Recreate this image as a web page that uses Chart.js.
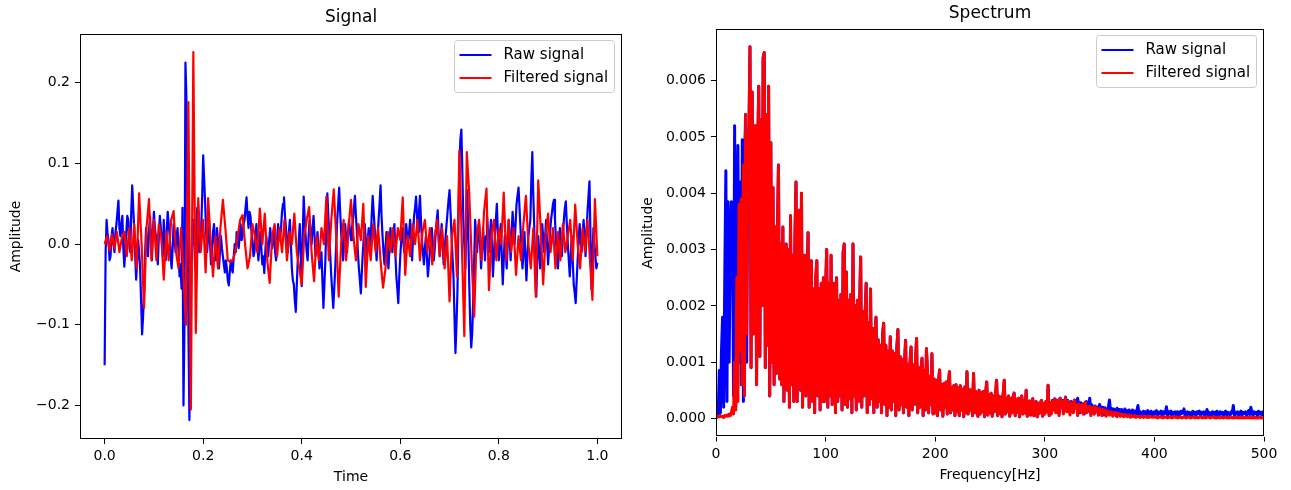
<!DOCTYPE html>
<html>
<head>
<meta charset="utf-8">
<script src="https://cdn.jsdelivr.net/npm/chart.js@4.4.1/dist/chart.umd.min.js"></script>
<style>
html,body{margin:0;padding:0;background:#fff;}
#wrap{position:relative;width:1291px;height:490px;overflow:hidden;background:#fff;}
canvas{position:absolute;top:0;}
#signalChart{left:0;}
#spectrumChart{left:640px;}
</style>
</head>
<body>
<div id="wrap">
<canvas id="signalChart" width="640" height="490"></canvas>
<canvas id="spectrumChart" width="651" height="490"></canvas>
</div>
<script>
// ---------------- DATA ----------------
const rawSampleStep = 0.002;
const filteredSampleStep = 0.005;
const rawSignal = [
 -0.150,-0.010, 0.030, 0.012, 0.005,-0.020,-0.015, 0.010, 0.020, 0.000,
 -0.010, 0.015, 0.025, 0.040, 0.054, 0.020, 0.010, 0.025, 0.035,-0.005,
 -0.028,-0.005, 0.015, 0.035, 0.030, 0.000,-0.010, 0.040, 0.073, 0.045,
  0.020,-0.015,-0.044,-0.020, 0.005,-0.010,-0.030,-0.070,-0.112,-0.090,
 -0.060,-0.015, 0.020, 0.000,-0.015, 0.015, 0.035, 0.010,-0.020, 0.015,
  0.040, 0.020, 0.010,-0.010,-0.025, 0.010, 0.035, 0.020, 0.005,-0.015,
  0.030, 0.005,-0.020, 0.015, 0.040, 0.025, 0.010,-0.015,-0.030,-0.005,
  0.025, 0.005,-0.010, 0.010, 0.020,-0.010,-0.040,-0.025,-0.055, 0.045,
 -0.200,-0.100, 0.225, 0.180, 0.040,-0.100,-0.218,-0.120,-0.020, 0.010,
  0.030, 0.000,-0.030, 0.010, 0.045, 0.015,-0.010, 0.005, 0.020, 0.060,
  0.110, 0.080, 0.050, 0.015,-0.010, 0.010, 0.030, 0.000,-0.025,-0.005,
  0.015, 0.025,-0.005,-0.020, 0.020, 0.005,-0.030,-0.010, 0.010,-0.005,
 -0.015,-0.025,-0.035,-0.020,-0.030,-0.045,-0.051,-0.035,-0.020,-0.030,
 -0.035,-0.015, 0.000,-0.010, 0.015, 0.005,-0.005, 0.010, 0.025, 0.005,
  0.010, 0.025, 0.030, 0.045, 0.058, 0.035, 0.020, 0.040, 0.035, 0.015,
  0.005,-0.015,-0.010, 0.010, 0.025, 0.000,-0.020,-0.005, 0.015,-0.005,
 -0.025,-0.015,-0.036,-0.010, 0.010,-0.005,-0.015, 0.005, 0.020, 0.005,
 -0.005, 0.010, 0.015,-0.010,-0.020, 0.005, 0.025, 0.010, 0.005, 0.020,
  0.040, 0.050, 0.058, 0.035, 0.020, 0.000,-0.010, 0.015, 0.030, 0.000,
 -0.030,-0.045,-0.050,-0.070,-0.084,-0.050,-0.020, 0.005, 0.025,-0.015,
 -0.052, 0.010, 0.059, 0.030, 0.010,-0.010,-0.020, 0.010, 0.030, 0.015,
  0.000, 0.020, 0.035, 0.010,-0.015, 0.000, 0.015,-0.010,-0.030,-0.015,
 -0.010,-0.045,-0.079,-0.050,-0.020, 0.025, 0.063, 0.035, 0.010,-0.015,
 -0.040,-0.060,-0.079,-0.055,-0.030, 0.000, 0.030, 0.050, 0.070, 0.040,
  0.015,-0.005,-0.020, 0.005, 0.025, 0.010,-0.010, 0.015, 0.030, 0.015,
  0.005, 0.020, 0.030, 0.045, 0.060, 0.035, 0.015,-0.010,-0.030,-0.045,
 -0.061,-0.035,-0.010, 0.010, 0.025, 0.005,-0.015, 0.005, 0.020,-0.005,
  0.005, 0.035, 0.060, 0.040, 0.020, 0.000,-0.020, 0.010, 0.030, 0.050,
  0.073, 0.035, 0.010,-0.010,-0.025,-0.005, 0.015,-0.010,-0.030,-0.005,
  0.020, 0.005,-0.010, 0.010, 0.025,-0.010,-0.040,-0.055,-0.073,-0.040,
 -0.015, 0.005, 0.020, 0.005,-0.010, 0.010, 0.025, 0.010, 0.000, 0.015,
  0.030, 0.005,-0.020, 0.010, 0.035, 0.045, 0.059, 0.035, 0.015, 0.040,
  0.060, 0.030, 0.005,-0.010,-0.025,-0.005, 0.010,-0.015,-0.040,-0.025,
 -0.010, 0.005, 0.020, 0.000,-0.020,-0.005, 0.015, 0.030, 0.042, 0.010,
 -0.015, 0.005, 0.025, 0.000,-0.025,-0.010, 0.010, 0.025, 0.040, 0.055,
  0.067, 0.040, 0.010,-0.015,-0.040,-0.090,-0.135,-0.100,-0.060, 0.020,
  0.100, 0.130, 0.142, 0.090, 0.030, 0.000,-0.030, 0.020, 0.067, 0.010,
 -0.050,-0.100,-0.128,-0.110,-0.070,-0.020, 0.030, 0.010,-0.010, 0.015,
  0.025, 0.000,-0.030,-0.005, 0.020, 0.000,-0.020, 0.010, 0.035, 0.015,
 -0.010, 0.010, 0.030, 0.000,-0.040,-0.015, 0.010, 0.030, 0.050, 0.015,
 -0.020, 0.005, 0.025,-0.015,-0.050,-0.020, 0.010,-0.010,-0.030, 0.000,
  0.030, 0.005,-0.020, 0.015, 0.040, 0.020, 0.000, 0.025, 0.050, 0.060,
  0.070, 0.045, 0.020,-0.005,-0.030,-0.010, 0.015,-0.015,-0.045,-0.015,
  0.010, 0.020, 0.030, 0.080, 0.114, 0.060, 0.020,-0.030,-0.065,-0.020,
  0.010,-0.010,-0.030,-0.005, 0.025, 0.010,-0.010, 0.010, 0.030, 0.000,
 -0.025,-0.005, 0.015, 0.030, 0.040, 0.050, 0.055, 0.030, 0.005,-0.015,
 -0.030,-0.005, 0.020, 0.000,-0.015, 0.010, 0.030, 0.045, 0.053, 0.025,
  0.000,-0.020,-0.040,-0.015, 0.010,-0.020,-0.050,-0.060,-0.073,-0.045,
 -0.020, 0.005, 0.025, 0.005,-0.010, 0.010, 0.030, 0.010,-0.015, 0.015,
  0.040, 0.060, 0.078, 0.010,-0.056,-0.020, 0.020, 0.000,-0.015,-0.030,
 -0.023
];
const filteredSignal = [
  0.000, 0.010,-0.008, 0.012,-0.005, 0.015,-0.010, 0.008, 0.015,-0.015,
  0.020,-0.020, 0.025,-0.030, 0.063, 0.000,-0.079, 0.020, 0.056,-0.020,
  0.030,-0.020, 0.025, 0.010,-0.044, 0.015,-0.020, 0.030, 0.041,-0.010,
 -0.030, 0.020,-0.040,-0.100, 0.176,-0.205, 0.238,-0.110, 0.057,-0.010,
  0.030,-0.035, 0.057, 0.005,-0.040, 0.010,-0.030, 0.020, 0.055, 0.020,
 -0.020,-0.022,-0.020,-0.010, 0.010, 0.030, 0.036, 0.000,-0.030,-0.015,
  0.025, 0.010,-0.010, 0.044, 0.000, 0.038,-0.020,-0.048, 0.010, 0.025,
 -0.015, 0.020,-0.010, 0.030,-0.020, 0.015, 0.000, 0.038,-0.010,-0.030,
 -0.050, 0.010, 0.030, 0.046,-0.010,-0.046, 0.010,-0.020, 0.020, 0.000,
  0.059,-0.020, 0.030, 0.068, 0.010,-0.065, 0.000, 0.030,-0.020, 0.020,
  0.055, 0.010,-0.020, 0.025, 0.005, 0.050,-0.053, 0.010,-0.020, 0.025,
 -0.010, 0.020,-0.020,-0.054,-0.030, 0.015,-0.010, 0.020,-0.015, 0.020,
  0.005, 0.058,-0.038, 0.010,-0.015, 0.025, 0.000, 0.030,-0.020, 0.015,
  0.030,-0.010, 0.020,-0.025, 0.010, 0.030,-0.015, 0.020,-0.030, 0.010,
 -0.071, 0.010, 0.030,-0.040, 0.116, 0.000,-0.114, 0.114, 0.063,-0.020,
 -0.090, 0.010, 0.030,-0.020, 0.040, 0.069,-0.057, 0.010, 0.030,-0.020,
  0.020, 0.000, 0.064,-0.020, 0.030,-0.010, 0.020,-0.038, 0.010,-0.020,
  0.025, 0.060, 0.000,-0.030, 0.020,-0.065, 0.079, 0.020,-0.050, 0.010,
  0.038,-0.010, 0.020,-0.030, 0.015,-0.020, 0.025,-0.010, 0.010, 0.030,
 -0.020, 0.049, 0.000,-0.030, 0.020,-0.010, 0.030,-0.020,-0.069, 0.056,
 -0.015
];

// Spectrum: 1 Hz bins, 0..500 Hz
const spectrumBinHz = 1;
// 0-29 Hz
const rawSpectrumLow = [
 .00010,.00030,.00008,.00085,.00010,.00120,.00180,.00020,.00250,.00440,
 .00030,.00385,.00100,.00300,.00385,.00370,.00040,.00520,.00020,.00350,
 .00485,.00100,.00420,.00060,.00495,.00030,.00450,.00540,.00100,.00480
];
const filteredSpectrumLow = [
 .00003,.00002,.00004,.00003,.00005,.00003,.00004,.00002,.00005,.00004,
 .00006,.00004,.00008,.00005,.00010,.00020,.00008,.00100,.00015,.00250,
 .00030,.00380,.00120,.00390,.00060,.00450,.00040,.00540,.00150,.00480
];
// 30-305 Hz : raw and filtered coincide in the pass band
const spectrumPassband = [
 .00500,.00660,.00090,.00580,.00150,.00480,.00520,.00060,.00470,.00590,
 .00110,.00530,.00200,.00640,.00650,.00090,.00540,.00130,.00590,.00040,
 .00490,.00100,.00410,.00060,.00340,.00080,.00330,.00450,.00070,.00310,
 .00060,.00340,.00030,.00260,.00310,.00050,.00300,.00020,.00360,.00060,
 .00290,.00030,.00320,.00420,.00030,.00310,.00370,.00050,.00400,.00020,
 .00260,.00290,.00040,.00240,.00330,.00020,.00250,.00280,.00030,.00230,
 .00010,.00250,.00280,.00040,.00230,.00015,.00240,.00030,.00250,.00030,
 .00230,.00300,.00020,.00240,.00040,.00290,.00025,.00220,.00240,.00010,
 .00250,.00030,.00210,.00040,.00220,.00015,.00295,.00310,.00025,.00260,
 .00020,.00210,.00035,.00220,.00010,.00310,.00040,.00200,.00015,.00210,
 .00030,.00200,.00287,.00020,.00190,.00040,.00180,.00240,.00010,.00170,
 .00025,.00230,.00035,.00160,.00010,.00150,.00180,.00020,.00140,.00030,
 .00130,.00010,.00150,.00169,.00025,.00130,.00005,.00120,.00020,.00145,
 .00015,.00120,.00030,.00115,.00005,.00125,.00158,.00015,.00110,.00025,
 .00105,.00010,.00100,.00139,.00020,.00095,.00005,.00100,.00127,.00015,
 .00095,.00025,.00100,.00142,.00010,.00090,.00020,.00085,.00107,.00005,
 .00085,.00015,.00124,.00080,.00010,.00075,.00025,.00115,.00008,.00070,
 .00010,.00068,.00005,.00065,.00086,.00015,.00060,.00004,.00062,.00020,
 .00065,.00008,.00060,.00083,.00010,.00055,.00015,.00058,.00005,.00060,
 .00012,.00055,.00005,.00058,.00015,.00052,.00003,.00056,.00010,.00083,
 .00008,.00052,.00015,.00050,.00005,.00080,.00010,.00048,.00018,.00004,
 .00050,.00008,.00046,.00012,.00048,.00003,.00044,.00065,.00006,.00042,
 .00010,.00045,.00004,.00040,.00012,.00042,.00068,.00005,.00040,.00009,
 .00038,.00003,.00042,.00068,.00008,.00036,.00012,.00040,.00004,.00035,
 .00010,.00038,.00045,.00005,.00034,.00011,.00036,.00003,.00033,.00040,
 .00008,.00032,.00010,.00050,.00004,.00030,.00031,.00006,.00029,.00035,
 .00005,.00028,.00030,.00003,.00027,.00009,.00028,.00032,.00004,.00026,
 .00008,.00030,.00012,.00059,.00005,.00028
];
// 306-500 Hz
const rawSpectrumHigh = [
 .00010,.00032,.00018,.00035,
 .00012,.00033,.00028,.00008,.00036,.00022,.00032,.00010,.00030,.00038,
 .00015,.00032,.00025,.00010,.00030,.00028,.00012,.00033,.00020,.00026,
 .00036,.00024,.00010,.00028,.00015,.00026,.00008,.00025,.00030,.00012,
 .00022,.00036,.00010,.00024,.00018,.00008,.00022,.00015,.00020,.00006,
 .00025,.00018,.00010,.00020,.00006,.00019,.00015,.00008,.00020,.00033,
 .00012,.00018,.00006,.00017,.00014,.00005,.00018,.00010,.00016,.00007,
 .00016,.00012,.00005,.00017,.00010,.00014,.00006,.00015,.00011,.00004,
 .00015,.00009,.00013,.00005,.00014,.00023,.00006,.00012,.00010,.00004,
 .00013,.00008,.00012,.00005,.00014,.00010,.00006,.00013,.00009,.00004,
 .00012,.00008,.00014,.00005,.00011,.00009,.00013,.00004,.00012,.00008,
 .00010,.00021,.00005,.00012,.00009,.00013,.00004,.00011,.00008,.00012,
 .00005,.00012,.00010,.00004,.00013,.00009,.00011,.00017,.00005,.00010,
 .00012,.00006,.00011,.00009,.00004,.00013,.00008,.00011,.00005,.00012,
 .00009,.00013,.00004,.00011,.00008,.00012,.00005,.00010,.00016,.00006,
 .00011,.00009,.00004,.00012,.00008,.00011,.00005,.00013,.00009,.00005,
 .00012,.00008,.00011,.00004,.00010,.00013,.00006,.00011,.00009,.00005,
 .00012,.00010,.00023,.00005,.00011,.00008,.00012,.00004,.00010,.00013,
 .00006,.00011,.00009,.00012,.00005,.00010,.00014,.00007,.00020,.00010,
 .00005,.00012,.00009,.00011,.00004,.00013,.00008,.00011,.00006,.00012,
 .00010
];
const filteredSpectrumHigh = [
 .00008,.00030,.00015,.00034,
 .00010,.00032,.00025,.00005,.00036,.00020,.00030,.00008,.00028,.00037,
 .00012,.00030,.00022,.00006,.00028,.00026,.00010,.00032,.00018,.00024,
 .00005,.00026,.00022,.00012,.00025,.00008,.00023,.00029,.00010,.00020,
 .00015,.00022,.00005,.00020,.00018,.00008,.00021,.00012,.00017,.00006,
 .00018,.00014,.00005,.00016,.00012,.00015,.00004,.00013,.00011,.00006,
 .00012,.00010,.00004,.00011,.00009,.00010,.00003,.00009,.00008,.00004,
 .00008,.00007,.00003,.00007,.00006,.00003,.00006,.00005,.00002,.00005,
 .00004,.00003,.00005,.00002,.00004,.00003,.00004,.00002,.00003,.00004,
 .00002,.00003,.00004,.00002,.00003,.00002,.00004,.00003,.00002,.00003,
 .00003,.00002,.00003,.00001,.00003,.00002,.00003,.00002,.00001,.00003,
 .00002,.00003,.00001,.00002,.00003,.00002,.00001,.00003,.00002,.00002,
 .00003,.00001,.00002,.00003,.00002,.00001,.00002,.00003,.00002,.00001,
 .00002,.00003,.00002,.00001,.00002,.00002,.00003,.00001,.00002,.00002,
 .00001,.00002,.00003,.00002,.00001,.00002,.00002,.00001,.00003,.00002,
 .00002,.00001,.00002,.00002,.00003,.00001,.00002,.00001,.00002,.00002,
 .00001,.00002,.00002,.00001,.00002,.00003,.00001,.00002,.00001,.00002,
 .00002,.00001,.00002,.00001,.00002,.00002,.00001,.00002,.00001,.00002,
 .00001,.00002,.00001,.00002,.00001,.00002,.00002,.00001,.00002,.00001,
 .00002,.00001,.00002,.00001,.00001,.00002,.00001,.00002,.00001,.00001,
 .00001
];

// Tick values
const signalTimeTicks = [0, 0.2, 0.4, 0.6, 0.8, 1.0];
const signalAmplitudeTicks = [-0.2, -0.1, 0, 0.1, 0.2];
const spectrumFreqTicks = [0, 100, 200, 300, 400, 500];
const spectrumAmplitudeTicks = [0, 0.001, 0.002, 0.003, 0.004, 0.005, 0.006];

const seriesNames = ['Raw signal', 'Filtered signal'];
const seriesColors = ['#0000ff', '#ff0000'];

// ---------------- BUILD ----------------
const rawSpectrum = [...rawSpectrumLow, ...spectrumPassband, ...rawSpectrumHigh];
const filteredSpectrum = [...filteredSpectrumLow, ...spectrumPassband, ...filteredSpectrumHigh];

const toPoints = (vals, step) => vals.map((v, i) => ({x: +(i * step).toFixed(6), y: v}));

const FONT = "'DejaVu Sans', 'Liberation Sans', sans-serif";
Chart.defaults.font.family = FONT;
Chart.defaults.color = '#000';

const framePlugin = {
  id: 'frame',
  afterDatasetsDraw(chart) {
    const {ctx, chartArea: a} = chart;
    ctx.save();
    ctx.strokeStyle = '#000';
    ctx.lineWidth = 1;
    ctx.strokeRect(Math.round(a.left) + 0.5, Math.round(a.top) + 0.5,
                   Math.round(a.right - a.left) - 1, Math.round(a.bottom - a.top) - 1);
    ctx.restore();
  }
};

const mplLegendPlugin = {
  id: 'mplLegend',
  afterDraw(chart, args, opts) {
    const {ctx, chartArea: a} = chart;
    const ds = chart.data.datasets;
    ctx.save();
    ctx.font = opts.fontSize + 'px ' + FONT;
    const textW = Math.max(...ds.map(d => ctx.measureText(d.label).width));
    const padL = 5, handle = 32, gap = 12, padR = 7, rowH = 23, padT = 14.5;
    const w = padL + handle + gap + textW + padR;
    const h = padT * 2 + rowH * (ds.length - 1);
    const right = Math.round(a.right - opts.insetX) + 0.5, left = Math.round(right - w) + 0.5;
    const top = Math.round(a.top + opts.insetY) + 0.5;
    const r = 3;
    ctx.beginPath();
    ctx.moveTo(left + r, top);
    ctx.lineTo(right - r, top); ctx.quadraticCurveTo(right, top, right, top + r);
    ctx.lineTo(right, top + h - r); ctx.quadraticCurveTo(right, top + h, right - r, top + h);
    ctx.lineTo(left + r, top + h); ctx.quadraticCurveTo(left, top + h, left, top + h - r);
    ctx.lineTo(left, top + r); ctx.quadraticCurveTo(left, top, left + r, top);
    ctx.closePath();
    ctx.fillStyle = 'rgba(255,255,255,0.8)';
    ctx.fill();
    ctx.strokeStyle = '#cccccc';
    ctx.lineWidth = 1;
    ctx.stroke();
    ds.forEach((d, k) => {
      const y = top + padT + k * rowH;
      ctx.strokeStyle = d.borderColor;
      ctx.lineWidth = 2;
      ctx.beginPath();
      ctx.moveTo(left + padL, y);
      ctx.lineTo(left + padL + handle, y);
      ctx.stroke();
      ctx.fillStyle = '#000';
      ctx.textBaseline = 'middle';
      ctx.textAlign = 'left';
      ctx.fillText(d.label, left + padL + handle + gap, y);
    });
    ctx.restore();
  }
};

function axisCommon(extra) {
  return Object.assign({
    type: 'linear',
    grid: {display: true, drawOnChartArea: false, drawTicks: true, tickLength: 5, color: '#000', lineWidth: 1},
    border: {display: false},
  }, extra);
}

const signedOneDecimal = v => (v < -1e-9 ? '\u2212' : '') + Math.abs(v).toFixed(1);

function makeChart(canvasId, cfg) {
  return new Chart(document.getElementById(canvasId), {
    type: 'line',
    data: {
      datasets: [
        {label: seriesNames[0], data: cfg.raw, borderColor: seriesColors[0], backgroundColor: seriesColors[0],
         borderWidth: cfg.lw, pointRadius: 0, tension: 0, order: 1, borderJoinStyle: 'round'},
        {label: seriesNames[1], data: cfg.filt, borderColor: seriesColors[1], backgroundColor: seriesColors[1],
         borderWidth: cfg.lw, pointRadius: 0, tension: 0, order: 0, borderJoinStyle: 'round'}
      ]
    },
    options: {
      responsive: false,
      devicePixelRatio: 1,
      animation: false,
      events: [],
      layout: {padding: {left: 0, right: cfg.padRight, top: 0, bottom: 0}},
      plugins: {
        legend: {display: false},
        tooltip: {enabled: false},
        title: {display: true, text: cfg.title, fullSize: false, color: '#000',
                font: {size: 17, weight: 'normal', family: FONT}, padding: cfg.titlePad},
        mplLegend: {fontSize: 15, insetX: 8, insetY: 6}
      },
      scales: {
        x: axisCommon({
          position: 'bottom',
          min: cfg.xMin, max: cfg.xMax,
          afterBuildTicks: s => { s.ticks = cfg.xTicks.map(v => ({value: v})); },
          afterFit: s => { s.height = cfg.xAxisH; },
          ticks: {autoSkip: false, maxRotation: 0, minRotation: 0, padding: 4, color: '#000',
                  font: {size: 14, family: FONT}, callback: cfg.xFmt},
          title: {display: true, text: cfg.xTitle, color: '#000', font: {size: 14, family: FONT},
                  padding: {top: 0, bottom: cfg.xTitlePad}}
        }),
        y: axisCommon({
          position: 'left',
          min: cfg.yMin, max: cfg.yMax,
          afterBuildTicks: s => { s.ticks = cfg.yTicks.map(v => ({value: v})); },
          afterFit: s => { s.width = cfg.yAxisW; },
          ticks: {padding: 5, color: '#000', font: {size: 14, family: FONT}, callback: cfg.yFmt},
          title: {display: true, text: 'Amplitude', color: '#000', font: {size: 14, family: FONT},
                  padding: {top: cfg.yTitlePad, bottom: 0}}
        })
      }
    },
    plugins: [framePlugin, mplLegendPlugin]
  });
}

makeChart('signalChart', {
  title: 'Signal', titlePad: {top: 7, bottom: 6.6},
  raw: toPoints(rawSignal, rawSampleStep),
  filt: toPoints(filteredSignal, filteredSampleStep),
  lw: 2.2,
  padRight: 18,
  xMin: -0.05, xMax: 1.05, xTicks: signalTimeTicks, xFmt: v => v.toFixed(1),
  yMin: -0.2415, yMax: 0.2605, yTicks: signalAmplitudeTicks, yFmt: signedOneDecimal,
  xTitle: 'Time', xAxisH: 51, xTitlePad: 4,
  yAxisW: 80, yTitlePad: 8
});

makeChart('spectrumChart', {
  title: 'Spectrum', titlePad: {top: 3, bottom: 6},
  raw: toPoints(rawSpectrum, spectrumBinHz),
  filt: toPoints(filteredSpectrum, spectrumBinHz),
  lw: 3,
  padRight: 27,
  xMin: 0, xMax: 500, xTicks: spectrumFreqTicks, xFmt: v => String(v),
  yMin: -0.00032, yMax: 0.00691, yTicks: spectrumAmplitudeTicks, yFmt: v => v.toFixed(3),
  xTitle: 'Frequency[Hz]', xAxisH: 53.5, xTitlePad: 6,
  yAxisW: 76, yTitlePad: 0
});
</script>
</body>
</html>
